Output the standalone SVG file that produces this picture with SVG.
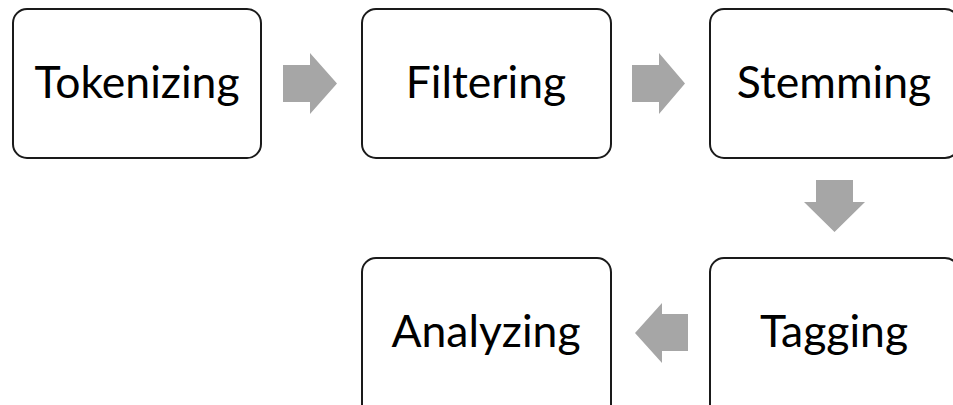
<svg xmlns="http://www.w3.org/2000/svg" width="953" height="405" viewBox="0 0 953 405">
<style>
.box{fill:#fff;stroke:#1a1a1a;stroke-width:2}
.lbl{font-family:Lato,"Open Sans",sans-serif;font-size:44.5px;fill:#000;text-anchor:middle}
.arr{fill:#a6a6a6}
</style>
<rect width="953" height="405" fill="#fff"/>
<g id="tokenizing"><rect class="box" x="13" y="9" width="248" height="149" rx="14"/><text class="lbl" x="137" y="98">Tokenizing</text></g>
<g id="filtering"><rect class="box" x="362" y="9" width="249" height="149" rx="14"/><text class="lbl" x="486" y="98">Filtering</text></g>
<g id="stemming"><rect class="box" x="710" y="9" width="249" height="149" rx="14"/><text class="lbl" x="834" y="98">Stemming</text></g>
<g id="tagging"><rect class="box" x="710" y="258" width="249" height="160" rx="14"/><text class="lbl" x="834" y="347">Tagging</text></g>
<g id="analyzing"><rect class="box" x="362" y="258" width="249" height="160" rx="14"/><text class="lbl" x="486" y="347">Analyzing</text></g>
<g id="connectors">
<polygon class="arr" points="283,65 310,65 310,53 337,83.5 310,114 310,102 283,102"/>
<polygon class="arr" points="632,65 659,65 659,53 685,83.5 659,114 659,102 632,102"/>
<polygon class="arr" points="816,180 853,180 853,202 865,202 834.5,232 804,202 816,202"/>
<polygon class="arr" points="688,314 688,351 662,351 662,363 635,333 662,303 662,314"/>
</g>
</svg>
